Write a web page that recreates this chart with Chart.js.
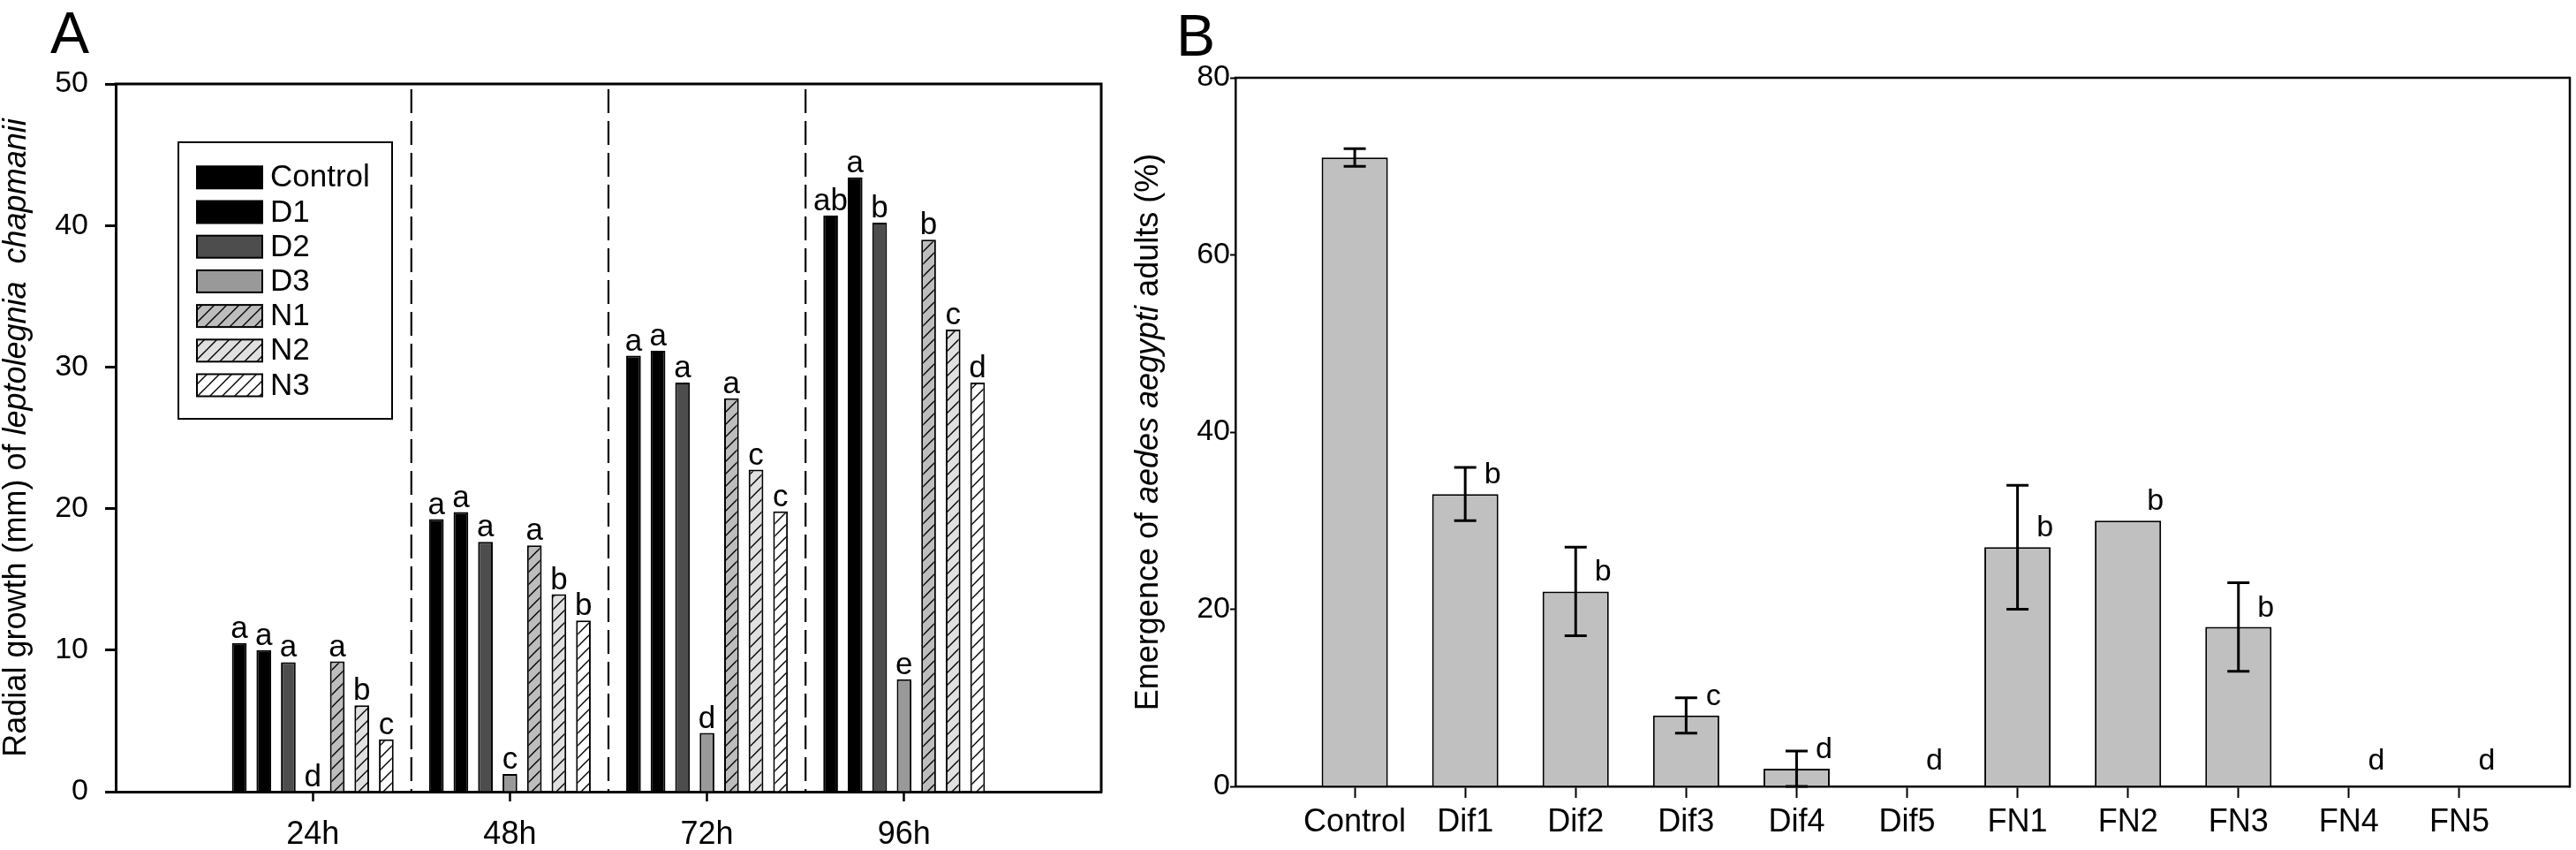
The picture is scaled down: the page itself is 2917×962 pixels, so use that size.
<!DOCTYPE html>
<html><head><meta charset="utf-8">
<script src="https://cdn.jsdelivr.net/npm/chart.js@4.4.1/dist/chart.umd.min.js"></script>
<style>
html,body{margin:0;padding:0;background:#fff;width:2917px;height:962px;overflow:hidden}
#ca{position:absolute;left:0;top:0}
#cb{position:absolute;left:1260px;top:0}
</style></head><body>
<canvas id="ca" width="1260" height="962"></canvas>
<canvas id="cb" width="1657" height="962"></canvas>
<script>
const FONT = '"Liberation Sans", Arial, Helvetica, sans-serif';

// ---------- Panel A data ----------
const timeLabels = ['24h', '48h', '72h', '96h'];
const timePositions = [1, 2, 3, 4];
const treatmentsA = ['Control', 'D1', 'D2', 'D3', 'N1', 'N2', 'N3'];
const growthControl = [10.5, 19.25, 30.8, 40.7];
const growthD1 = [10.0, 19.75, 31.15, 43.4];
const growthD2 = [9.15, 17.65, 28.9, 40.2];
const growthD3 = [0, 1.25, 4.15, 7.95];
const growthN1 = [9.2, 17.4, 27.8, 39.0];
const growthN2 = [6.1, 13.95, 22.75, 32.65];
const growthN3 = [3.7, 12.1, 19.8, 28.9];
const lettersControl = ['a', 'a', 'a', 'ab'];
const lettersD1 = ['a', 'a', 'a', 'a'];
const lettersD2 = ['a', 'a', 'a', 'b'];
const lettersD3 = ['d', 'c', 'd', 'e'];
const lettersN1 = ['a', 'a', 'a', 'b'];
const lettersN2 = ['b', 'b', 'c', 'c'];
const lettersN3 = ['c', 'b', 'c', 'd'];
const yTicksA = [0, 10, 20, 30, 40, 50];

// ---------- Panel B data ----------
const categoriesB = ['Control', 'Dif1', 'Dif2', 'Dif3', 'Dif4', 'Dif5', 'FN1', 'FN2', 'FN3', 'FN4', 'FN5'];
const categoryPositionsB = [0, 1, 2, 3, 4, 5, 6, 7, 8, 9, 10];
const emergence = [71, 33, 22, 8, 2, 0, 27, 30, 18, 0, 0];
const emergenceErr = [1, 3, 5, 2, 2, 0, 7, 0, 5, 0, 0];
const lettersB = ['', 'b', 'b', 'c', 'd', 'd', 'b', 'b', 'b', 'd', 'd'];
const yTicksB = [0, 20, 40, 60, 80];

Chart.defaults.font.family = FONT;
Chart.defaults.color = '#000';

function hatch(ctx, bg) {
  const s = 14;
  const c = document.createElement('canvas'); c.width = s; c.height = s;
  const g = c.getContext('2d');
  g.fillStyle = bg; g.fillRect(0, 0, s, s);
  g.strokeStyle = '#000'; g.lineWidth = 1.4;
  g.beginPath();
  g.moveTo(0, s); g.lineTo(s, 0);
  g.moveTo(-s / 2, s / 2); g.lineTo(s / 2, -s / 2);
  g.moveTo(s / 2, s * 1.5); g.lineTo(s * 1.5, s / 2);
  g.stroke();
  return ctx.createPattern(c, 'repeat');
}

// ---------- shared plugins ----------
const frame = {
  id: 'frame',
  afterDraw(chart, args, o) {
    const { ctx, chartArea: a } = chart;
    ctx.save();
    ctx.strokeStyle = '#000'; ctx.lineWidth = o.width; ctx.lineCap = 'square';
    ctx.beginPath();
    ctx.moveTo(a.left, a.top); ctx.lineTo(a.right, a.top); ctx.lineTo(a.right, a.bottom);
    ctx.stroke();
    ctx.restore();
  }
};
const axisTitle = {
  id: 'axisTitle',
  afterDraw(chart, args, o) {
    const { ctx, chartArea: a } = chart;
    const cy = (a.top + a.bottom) / 2;
    ctx.save();
    ctx.translate(o.x, cy);
    ctx.rotate(-Math.PI / 2);
    ctx.fillStyle = '#000'; ctx.textBaseline = 'middle'; ctx.textAlign = 'left';
    const fonts = o.parts.map(p => (p.italic ? 'italic ' : '') + o.size + 'px ' + FONT);
    const widths = o.parts.map((p, i) => { ctx.font = fonts[i]; return ctx.measureText(p.text).width; });
    let x = -widths.reduce((s, w) => s + w, 0) / 2;
    o.parts.forEach((p, i) => { ctx.font = fonts[i]; ctx.fillText(p.text, x, 0); x += widths[i]; });
    // panel letter
    ctx.restore();
    ctx.save();
    ctx.fillStyle = '#000'; ctx.font = o.panelSize + 'px ' + FONT;
    ctx.textBaseline = 'alphabetic'; ctx.textAlign = 'left';
    ctx.fillText(o.panel, o.panelX, o.panelY);
    ctx.restore();
  }
};

// ---------- Panel A ----------
const ctxA = document.getElementById('ca').getContext('2d');
const seriesA = [growthControl, growthD1, growthD2, growthD3, growthN1, growthN2, growthN3];
const lettersA = [lettersControl, lettersD1, lettersD2, lettersD3, lettersN1, lettersN2, lettersN3];
const fillsA = ['#000000', '#000000', '#4d4d4d', '#999999', hatch(ctxA, '#bdbdbd'), hatch(ctxA, '#e0e0e0'), hatch(ctxA, '#ffffff')];

const separators = {
  id: 'separators',
  beforeDatasetsDraw(chart) {
    const { ctx, chartArea: a, scales: { x } } = chart;
    ctx.save();
    ctx.strokeStyle = '#000'; ctx.lineWidth = 2.2; ctx.setLineDash([27, 9]);
    for (let i = 0; i < timePositions.length - 1; i++) {
      const px = x.getPixelForValue((timePositions[i] + timePositions[i + 1]) / 2);
      ctx.beginPath(); ctx.moveTo(px, a.top + 6); ctx.lineTo(px, a.bottom); ctx.stroke();
    }
    ctx.restore();
  }
};
const barLettersA = {
  id: 'barLettersA',
  afterDatasetsDraw(chart) {
    const { ctx } = chart;
    ctx.save();
    ctx.fillStyle = '#000'; ctx.font = '35px ' + FONT; ctx.textAlign = 'center'; ctx.textBaseline = 'alphabetic';
    lettersA.forEach((arr, k) => {
      const meta = chart.getDatasetMeta(k);
      arr.forEach((t, i) => { const el = meta.data[i]; ctx.fillText(t, el.x, el.y - 6); });
    });
    ctx.restore();
  }
};
const legendA = {
  id: 'legendA',
  afterDraw(chart) {
    const { ctx } = chart;
    ctx.save();
    ctx.strokeStyle = '#000'; ctx.lineWidth = 2;
    ctx.fillStyle = '#fff';
    ctx.fillRect(202, 161, 242, 313);
    ctx.strokeRect(202, 161, 242, 313);
    ctx.font = '35px ' + FONT; ctx.textBaseline = 'middle'; ctx.textAlign = 'left';
    chart.data.datasets.forEach((ds, k) => {
      const cy = 200.8 + k * 39.2;
      ctx.fillStyle = ds.backgroundColor;
      ctx.fillRect(223, cy - 12.5, 74, 25);
      ctx.strokeRect(223, cy - 12.5, 74, 25);
      ctx.fillStyle = '#000';
      ctx.fillText(ds.label, 306, cy + 1);
    });
    ctx.restore();
  }
};

new Chart(ctxA, {
  type: 'bar',
  data: {
    datasets: treatmentsA.map((name, k) => ({
      label: name,
      data: timePositions.map((x, i) => ({ x: x, y: seriesA[k][i] })),
      backgroundColor: fillsA[k],
      borderColor: '#000',
      borderWidth: 2,
      borderSkipped: 'bottom',
      barPercentage: 0.6,
      categoryPercentage: 0.87
    }))
  },
  options: {
    responsive: false,
    animation: false,
    events: [],
    layout: { padding: { top: 95, right: 13, left: 0, bottom: 0 } },
    plugins: {
      legend: { display: false },
      tooltip: { enabled: false },
      frame: { width: 3 },
      axisTitle: {
        x: 19, size: 36,
        parts: [{ text: 'Radial growth (mm) of ' }, { text: 'leptolegnia  chapmanii', italic: true }],
        panel: 'A', panelX: 57, panelY: 60, panelSize: 66
      }
    },
    scales: {
      x: {
        type: 'linear', min: 0, max: 5, offset: false,
        grid: { display: true, offset: false, drawOnChartArea: false, drawTicks: true, tickLength: 11, tickWidth: 2.5, tickColor: '#000' },
        border: { display: true, color: '#000', width: 3 },
        afterBuildTicks: s => { s.ticks = timePositions.map(v => ({ value: v })); },
        afterFit: s => { s.height = 66; },
        ticks: { autoSkip: false, maxRotation: 0, padding: 16, color: '#000', font: { size: 36 }, callback: (v, i) => timeLabels[i] }
      },
      y: {
        min: 0, max: 50,
        afterBuildTicks: s => { s.ticks = yTicksA.map(v => ({ value: v })); },
        afterFit: s => { s.width = 131; },
        grid: { display: true, drawOnChartArea: false, drawTicks: true, tickLength: 12, tickWidth: 3, tickColor: '#000' },
        border: { display: true, color: '#000', width: 3 },
        ticks: { padding: 19, color: '#000', font: { size: 34 } }
      }
    }
  },
  plugins: [separators, barLettersA, legendA, frame, axisTitle]
});

// ---------- Panel B ----------
const ctxB = document.getElementById('cb').getContext('2d');
const errorBars = {
  id: 'errorBars',
  afterDatasetsDraw(chart) {
    const { ctx, scales: { y } } = chart;
    const meta = chart.getDatasetMeta(0);
    ctx.save();
    ctx.strokeStyle = '#000'; ctx.lineWidth = 3;
    emergenceErr.forEach((e, i) => {
      if (!e) return;
      const x = meta.data[i].x;
      const yt = y.getPixelForValue(emergence[i] + e);
      const yb = y.getPixelForValue(emergence[i] - e);
      ctx.beginPath();
      ctx.moveTo(x, yt); ctx.lineTo(x, yb);
      ctx.moveTo(x - 12.5, yt); ctx.lineTo(x + 12.5, yt);
      ctx.moveTo(x - 12.5, yb); ctx.lineTo(x + 12.5, yb);
      ctx.stroke();
    });
    ctx.fillStyle = '#000'; ctx.font = '34px ' + FONT; ctx.textAlign = 'center'; ctx.textBaseline = 'alphabetic';
    lettersB.forEach((t, i) => {
      if (!t) return;
      const el = meta.data[i];
      ctx.fillText(t, el.x + 31, el.y - (emergence[i] === 0 ? 19 : 12));
    });
    ctx.restore();
  }
};

new Chart(ctxB, {
  type: 'bar',
  data: {
    datasets: [{
      label: 'Emergence',
      data: categoryPositionsB.map((x, i) => ({ x: x, y: emergence[i] })),
      backgroundColor: '#c0c0c0',
      borderColor: '#000',
      borderWidth: 2,
      borderSkipped: 'bottom',
      barPercentage: 0.6,
      categoryPercentage: 1
    }]
  },
  options: {
    responsive: false,
    animation: false,
    events: [],
    layout: { padding: { top: 88, right: 7, left: 0, bottom: 0 } },
    plugins: {
      legend: { display: false },
      tooltip: { enabled: false },
      frame: { width: 2.5 },
      axisTitle: {
        x: 41, size: 36,
        parts: [{ text: 'Emergence of ' }, { text: 'aedes aegypti', italic: true }, { text: ' adults (%)' }],
        panel: 'B', panelX: 72, panelY: 63, panelSize: 66
      }
    },
    scales: {
      x: {
        type: 'linear', min: -1.08, max: 11, offset: false,
        grid: { display: true, offset: false, drawOnChartArea: false, drawTicks: true, tickLength: 13, tickWidth: 2, tickColor: '#000' },
        border: { display: true, color: '#000', width: 2.5 },
        afterBuildTicks: s => { s.ticks = categoryPositionsB.map(v => ({ value: v })); },
        afterFit: s => { s.height = 72; },
        ticks: { autoSkip: false, maxRotation: 0, padding: 6, color: '#000', font: { size: 36 }, callback: (v, i) => categoriesB[i] }
      },
      y: {
        min: 0, max: 80,
        afterBuildTicks: s => { s.ticks = yTicksB.map(v => ({ value: v })); },
        afterFit: s => { s.width = 139; },
        grid: { display: true, drawOnChartArea: false, drawTicks: true, tickLength: 6, tickWidth: 2, tickColor: '#000' },
        border: { display: true, color: '#000', width: 2.5 },
        ticks: { padding: 0, color: '#000', font: { size: 34 } }
      }
    }
  },
  plugins: [errorBars, frame, axisTitle]
});
</script>
</body></html>
